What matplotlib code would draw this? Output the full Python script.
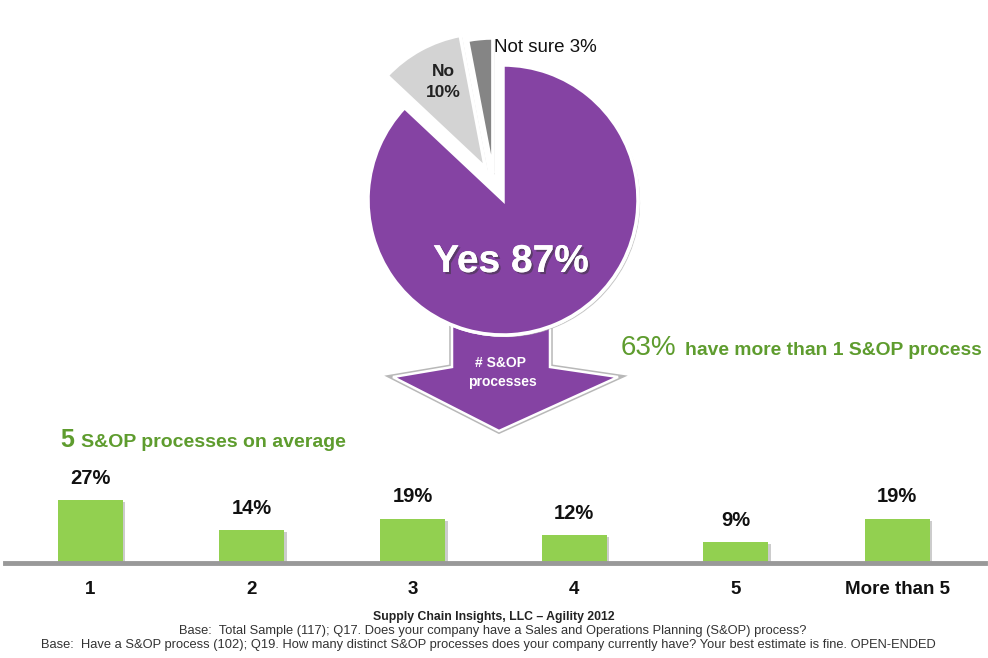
import matplotlib
matplotlib.use("Agg")
import matplotlib.pyplot as plt
from matplotlib.patches import Polygon
import matplotlib.patheffects as pe

# ---- data ----
pie_labels = ["Yes", "No", "Not sure"]
pie_values = [87, 10, 3]
bar_categories = ["1", "2", "3", "4", "5", "More than 5"]
bar_values = [27, 14, 19, 12, 9, 19]

PURPLE = "#8543A3"
GREEN_TXT = "#5E9C2E"
BAR_GREEN = "#92D050"
FONT = ["Liberation Sans", "DejaVu Sans"]

W, H = 988, 658
fig = plt.figure(figsize=(W / 100, H / 100), dpi=100)
fig.patch.set_facecolor("white")

# overlay axes in pixel coordinates
ov = fig.add_axes([0, 0, 1, 1], zorder=0)
ov.set_xlim(0, W)
ov.set_ylim(H, 0)
ov.axis("off")

# arrow (behind pie)
arrow_pts = [(452, 290), (550, 290), (550, 367), (618, 377), (499, 431),
             (393, 377), (452, 367)]
ov.add_patch(Polygon(arrow_pts, closed=True, facecolor=PURPLE,
                     edgecolor="#B8B8B8", linewidth=4, joinstyle="miter"))
ov.add_patch(Polygon(arrow_pts, closed=True, facecolor=PURPLE,
                     edgecolor="white", linewidth=1.8, joinstyle="miter"))
ov.text(500, 363, "# S&OP", color="white", fontsize=10, fontweight="bold",
        ha="center", va="center", family=FONT)
ov.text(502, 382, "processes", color="white", fontsize=10, fontweight="bold",
        ha="center", va="center", family=FONT)

# green callouts
ov.text(621, 355, "63%", color=GREEN_TXT, fontsize=20,
        ha="left", va="baseline", family=FONT)
ov.text(685, 355, "have more than 1 S&OP process", color=GREEN_TXT,
        fontsize=13.9, fontweight="bold", ha="left", va="baseline", family=FONT)
ov.text(60, 447, "5", color=GREEN_TXT, fontsize=18, fontweight="bold",
        ha="left", va="baseline", family=FONT)
ov.text(81, 447, "S&OP processes on average", color=GREEN_TXT,
        fontsize=14, fontweight="bold", ha="left", va="baseline", family=FONT)

# footer
ov.text(494, 617, "Supply Chain Insights, LLC \u2013 Agility 2012", color="#222222",
        fontsize=8.8, fontweight="bold", ha="center", va="center", family=FONT)
ov.text(493, 631, "Base:  Total Sample (117); Q17. Does your company have a Sales and "
        "Operations Planning (S&OP) process?", color="#333333",
        fontsize=9.3, ha="center", va="center", family=FONT)
ov.text(488, 645, "Base:  Have a S&OP process (102); Q19. How many distinct S&OP processes "
        "does your company currently have? Your best estimate is fine. OPEN-ENDED",
        color="#333333", fontsize=9.3, ha="center", va="center", family=FONT)

# pie axes
cx, cy, r, half = 503, 200, 135, 150
pax = fig.add_axes([(cx - half) / W, 1 - (cy + half) / H, 2 * half / W, 2 * half / H],
                   zorder=2)
lim = half / r
wedges, _ = pax.pie(pie_values, colors=[PURPLE, "#D3D3D3", "#858585"],
                    startangle=90, counterclock=False, explode=[0, 0.27, 0.21],
                    wedgeprops=dict(edgecolor="white", linewidth=2.5), radius=1,
                    frame=True)
# the small wedge is pulled up-left rather than strictly radially
wedges[2].set_center((-0.075, 0.2))
pax.set_xlim(-lim, lim)
pax.set_ylim(-lim, lim)
pax.set_aspect("equal")
pax.axis("off")
for w in wedges:
    w.set_path_effects([pe.withSimplePatchShadow(offset=(1.5, -1.5),
                                                 shadow_rgbFace="#BBBBBB", alpha=0.8),
                        pe.Normal()])


def px(x, y):
    return ((x - cx) / r, (cy - y) / r)


pax.text(*px(511, 262), f"{pie_labels[0]} {pie_values[0]}%", color="white",
         fontsize=28, fontweight="bold", ha="center", va="center", family=FONT,
         path_effects=[pe.withSimplePatchShadow(offset=(1.5, -1.5),
                                                shadow_rgbFace="#333333", alpha=0.5),
                       pe.Normal()])
pax.text(*px(443, 82), f"{pie_labels[1]}\n{pie_values[1]}%", color="#222222",
         fontsize=12.5, fontweight="bold", ha="center", va="center",
         linespacing=1.45, family=FONT)
pax.text(*px(494, 48), f"{pie_labels[2]} {pie_values[2]}%", color="#111111",
         fontsize=13.5, ha="left", va="center", family=FONT)

# bar axes
base_y, top_y = 563, 463
left_px, right_px = 5, 985
spacing = (897 - 90) / 5
bax = fig.add_axes([left_px / W, 1 - base_y / H, (right_px - left_px) / W,
                    (base_y - top_y) / H], zorder=1)
bax.patch.set_alpha(0)
xs = list(range(len(bar_categories)))
bax.set_xlim(-(90 - left_px) / spacing, 5 + (right_px - 897) / spacing)
bax.set_ylim(0, (base_y - top_y) / 2.33)
bars = bax.bar(xs, bar_values, width=65 / spacing, color=BAR_GREEN, zorder=2)
for b in bars:
    b.set_path_effects([pe.withSimplePatchShadow(offset=(2, -1.5),
                                                 shadow_rgbFace="#AAAAAA", alpha=0.6),
                        pe.Normal()])
for x, v in zip(xs, bar_values):
    bax.annotate(f"{v}%", (x, v), xytext=(0, 9), textcoords="offset points",
                 ha="center", va="bottom", fontsize=14.5, fontweight="bold",
                 family=FONT, color="#111111")
for s in ["top", "right", "left"]:
    bax.spines[s].set_visible(False)
bax.spines["bottom"].set_color("#999999")
bax.spines["bottom"].set_linewidth(3.5)
bax.spines["bottom"].set_zorder(3)
bax.set_yticks([])
bax.set_xticks(xs)
bax.set_xticklabels(bar_categories, fontsize=13.5, fontweight="bold", family=FONT,
                    color="#111111")
bax.tick_params(axis="x", length=0, pad=13)

fig.savefig("out.png", dpi=100, facecolor="white")
